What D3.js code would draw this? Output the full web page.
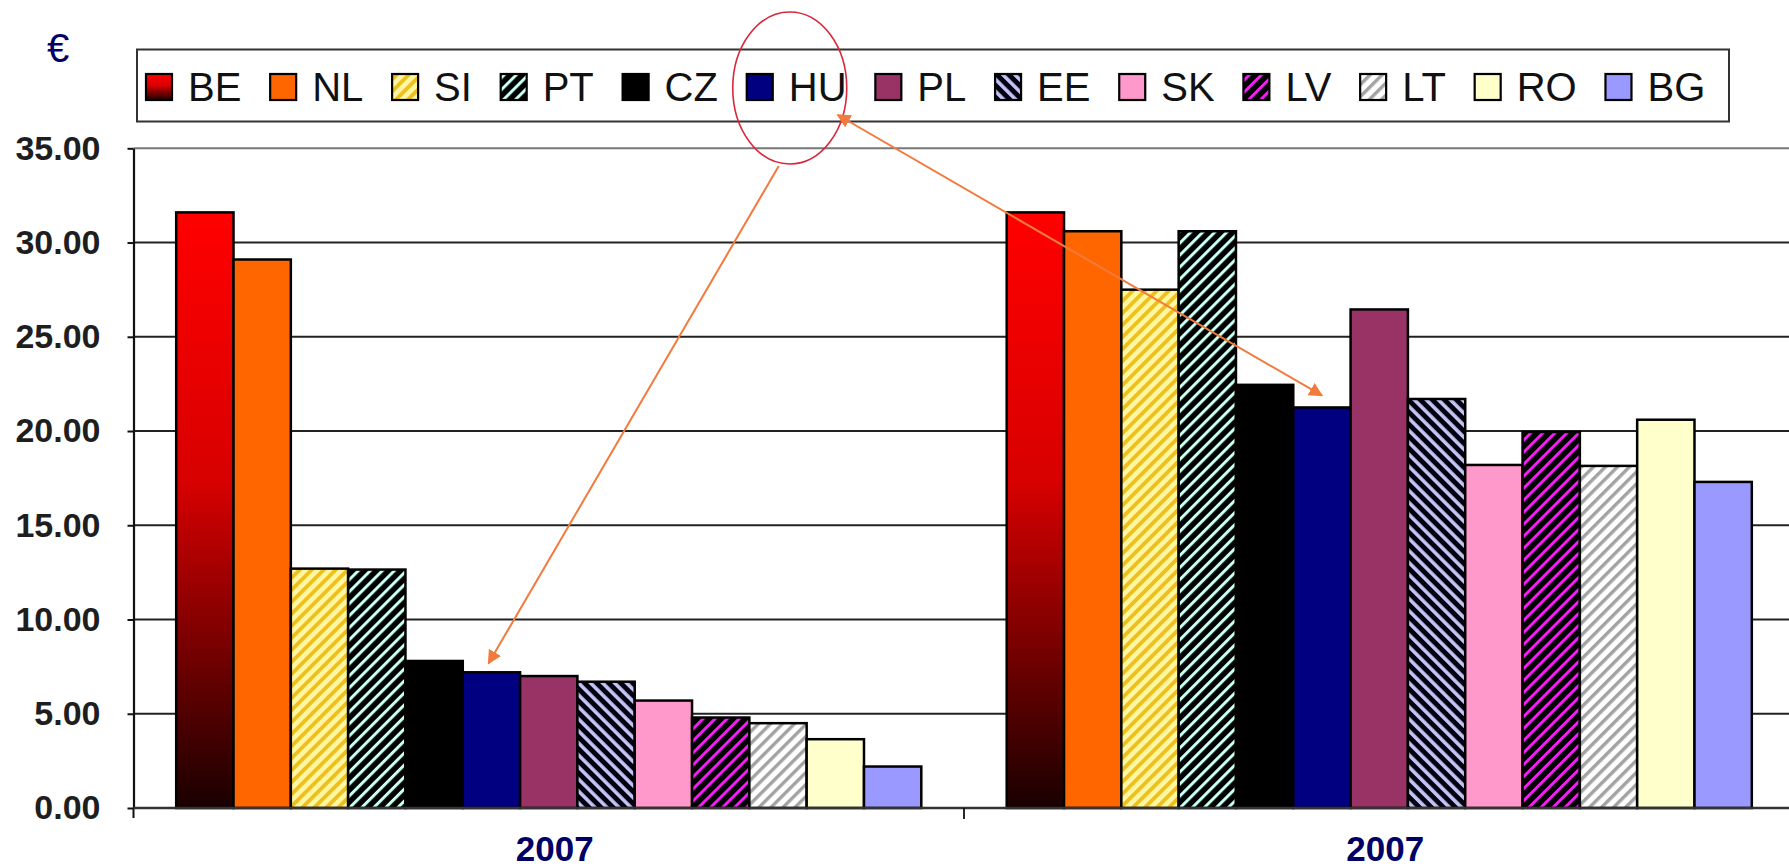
<!DOCTYPE html>
<html>
<head>
<meta charset="utf-8">
<script src="https://cdn.jsdelivr.net/npm/d3@7"></script>
<style>
  html, body { margin: 0; padding: 0; background: #fff; }
  svg { display: block; }
  text { font-family: "Liberation Sans", Arial, sans-serif; }
</style>
</head>
<body>
<svg id="chart" width="1789" height="867"></svg>
<script>
// Countries shown in both groups, in legend order
const countries = ["BE", "NL", "SI", "PT", "CZ", "HU", "PL", "EE", "SK", "LV", "LT", "RO", "BG"];
// Group labels (both panels are labelled 2007)
const groupLabels = ["2007", "2007"];
// Values in euro, first group
const valuesGroupA = [31.6, 29.1, 12.7, 12.65, 7.8, 7.2, 7.0, 6.7, 5.7, 4.8, 4.5, 3.65, 2.2];
// Values in euro, second group
const valuesGroupB = [31.6, 30.6, 27.5, 30.6, 22.45, 21.25, 26.45, 21.7, 18.2, 19.95, 18.15, 20.6, 17.3];
// Y axis tick values
const yTicks = [0, 5, 10, 15, 20, 25, 30, 35];

const svg = d3.select("#chart");
const defs = svg.append("defs");

// Fill styles per country
const beGrad = defs.append("linearGradient").attr("id", "fill-BE")
  .attr("x1", 0).attr("y1", 0).attr("x2", 0).attr("y2", 1);
beGrad.append("stop").attr("offset", "0").attr("stop-color", "#ff0000");
beGrad.append("stop").attr("offset", "0.45").attr("stop-color", "#d80000");
beGrad.append("stop").attr("offset", "1").attr("stop-color", "#1a0000");

function stripes(id, bg, fg, angle, period, width) {
  const p = defs.append("pattern").attr("id", id)
    .attr("patternUnits", "userSpaceOnUse")
    .attr("width", period).attr("height", period)
    .attr("patternTransform", `rotate(${angle})`);
  p.append("rect").attr("width", period).attr("height", period).attr("fill", bg);
  p.append("rect").attr("x", 0).attr("y", 0).attr("width", width).attr("height", period).attr("fill", fg);
}
stripes("fill-SI", "#fff6a0", "#efbf1c", 45, 8.5, 3.8);
stripes("fill-PT", "#000000", "#c8fff2", 45, 8.5, 3.0);
stripes("fill-EE", "#000010", "#c4c4f2", -45, 8.5, 3.6);
stripes("fill-LV", "#000000", "#f020f0", 45, 8.5, 3.0);
stripes("fill-LT", "#ffffff", "#a2a2a2", 45, 8.5, 3.4);

const fills = {
  BE: "url(#fill-BE)", NL: "#ff6600", SI: "url(#fill-SI)", PT: "url(#fill-PT)",
  CZ: "#000000", HU: "#000080", PL: "#993366", EE: "url(#fill-EE)",
  SK: "#ff99cc", LV: "url(#fill-LV)", LT: "url(#fill-LT)", RO: "#ffffcc", BG: "#9999ff"
};

// Scales
const plotLeft = 133.5, plotRight = 1794.5, plotTop = 148.3, plotBottom = 808;
const y = d3.scaleLinear().domain([0, 35]).range([plotBottom, plotTop]);
const x0 = d3.scaleBand().domain([0, 1]).range([plotLeft, plotRight]).padding(0);
const x1 = d3.scaleBand().domain(countries).range([0, x0.bandwidth()])
  .paddingInner(0).paddingOuter(0.745);

// Horizontal gridlines
svg.append("g").selectAll("line").data(yTicks.filter(d => d > 0)).join("line")
  .attr("x1", plotLeft).attr("x2", 1789)
  .attr("y1", d => y(d)).attr("y2", d => y(d))
  .attr("stroke", d => d === 35 ? "#777" : "#222").attr("stroke-width", 2);

// Bars
const groups = [valuesGroupA, valuesGroupB];
groups.forEach((vals, gi) => {
  svg.append("g").attr("transform", `translate(${x0(gi)},0)`)
    .selectAll("rect").data(countries.map((c, i) => ({ c, v: vals[i] }))).join("rect")
    .attr("x", d => x1(d.c)).attr("width", x1.bandwidth())
    .attr("y", d => y(d.v)).attr("height", d => y(0) - y(d.v))
    .attr("fill", d => fills[d.c])
    .attr("stroke", "#000").attr("stroke-width", 2.5);
});

// Y axis
const yAxis = d3.axisLeft(y).tickValues(yTicks).tickFormat(d3.format(".2f"))
  .tickSizeInner(6).tickSizeOuter(0).tickPadding(27);
const gy = svg.append("g").attr("transform", `translate(${plotLeft},0)`).call(yAxis);
gy.select(".domain").attr("stroke", "#111").attr("stroke-width", 2.2);
gy.selectAll(".tick line").attr("stroke", "#111").attr("stroke-width", 2);
gy.selectAll(".tick text").attr("font-size", 34).attr("font-weight", "bold")
  .attr("fill", "#1e1e1e").attr("font-family", "'Liberation Sans', Arial, sans-serif");
// Extend the y axis slightly below the baseline
svg.append("line").attr("x1", plotLeft).attr("x2", plotLeft)
  .attr("y1", plotBottom).attr("y2", plotBottom + 10)
  .attr("stroke", "#111").attr("stroke-width", 2);

// X axis baseline with group separators
svg.append("line").attr("x1", plotLeft).attr("x2", 1789)
  .attr("y1", plotBottom).attr("y2", plotBottom)
  .attr("stroke", "#333").attr("stroke-width", 2.5);
svg.append("g").selectAll("line").data([1]).join("line")
  .attr("x1", d => x0(d)).attr("x2", d => x0(d))
  .attr("y1", plotBottom).attr("y2", plotBottom + 11)
  .attr("stroke", "#111").attr("stroke-width", 1.8);

// Group labels
svg.append("g").selectAll("text").data([0, 1]).join("text")
  .attr("x", d => x0(d) + x0.bandwidth() / 2 + 6)
  .attr("y", 861)
  .attr("text-anchor", "middle")
  .attr("font-size", 35).attr("font-weight", "bold").attr("fill", "#000066")
  .text(d => groupLabels[d]);

// Currency sign
svg.append("text").attr("x", 58).attr("y", 62).attr("text-anchor", "middle")
  .attr("font-size", 40).attr("fill", "#000066").text("€");

// Legend
const legend = svg.append("g");
legend.append("rect").attr("x", 137).attr("y", 49.5).attr("width", 1592).attr("height", 72)
  .attr("fill", "#fff").attr("stroke", "#333").attr("stroke-width", 2);
const swatch = 26, swatchGap = 16, itemGap = 28.8;
let cursor = 146;
const legendPos = {};
countries.forEach(c => {
  legend.append("rect").attr("x", cursor).attr("y", 74).attr("width", swatch).attr("height", swatch)
    .attr("fill", fills[c]).attr("stroke", "#000").attr("stroke-width", 2.2);
  const t = legend.append("text").attr("x", cursor + swatch + swatchGap).attr("y", 101)
    .attr("font-size", 40).attr("fill", "#111").text(c);
  legendPos[c] = cursor;
  cursor += swatch + swatchGap + t.node().getComputedTextLength() + itemGap;
});

// Highlight of the HU legend entry
const huX = legendPos["HU"];
svg.append("ellipse").attr("cx", huX + 43).attr("cy", 88).attr("rx", 57).attr("ry", 76)
  .attr("fill", "none").attr("stroke", "#d8283c").attr("stroke-width", 1.6);

// Arrows from the highlight to the HU bars
const head = defs.append("marker").attr("id", "arrowHead")
  .attr("viewBox", "0 0 10 10").attr("refX", 9).attr("refY", 5)
  .attr("markerWidth", 7).attr("markerHeight", 7).attr("markerUnits", "strokeWidth")
  .attr("orient", "auto-start-reverse");
head.append("path").attr("d", "M0,0 L10,5 L0,10 z").attr("fill", "#f27a3c");

const huIdx = countries.indexOf("HU");
const tipA = [x0(0) + x1("HU") + x1.bandwidth() * 0.45, y(valuesGroupA[huIdx]) - 9];
const tipB = [x0(1) + x1("HU") + x1.bandwidth() * 0.5, y(valuesGroupB[huIdx]) - 12];
svg.append("line").attr("x1", huX + 32).attr("y1", 166).attr("x2", tipA[0]).attr("y2", tipA[1])
  .attr("stroke", "#f27a3c").attr("stroke-width", 2).attr("marker-end", "url(#arrowHead)");
svg.append("line").attr("x1", huX + 91).attr("y1", 115).attr("x2", tipB[0]).attr("y2", tipB[1])
  .attr("stroke", "#f27a3c").attr("stroke-width", 2)
  .attr("marker-start", "url(#arrowHead)").attr("marker-end", "url(#arrowHead)");
</script>
</body>
</html>
